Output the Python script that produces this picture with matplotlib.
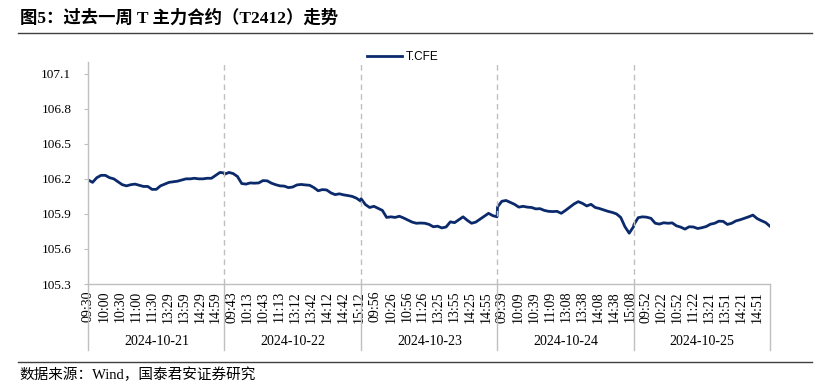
import numpy as np
import matplotlib
matplotlib.use("Agg")
import matplotlib.pyplot as plt
import matplotlib.transforms as mtransforms
from matplotlib.lines import Line2D

############################################
# DATA (T.CFE, sampled every 8 minutes)
############################################
dates = ["2024-10-21", "2024-10-22", "2024-10-23", "2024-10-24", "2024-10-25"]
SAMPLE_STEP = 8
POINTS_PER_DAY = 257   # 09:30-11:30 and 13:00-15:15
TICK_EVERY = 30

day1_vals = [106.19, 106.17, 106.21, 106.23, 106.23, 106.21, 106.20, 106.175, 106.15,
             106.14, 106.15, 106.155, 106.145, 106.135, 106.135, 106.11, 106.11, 106.14,
             106.155, 106.17, 106.175, 106.18, 106.19, 106.20, 106.20, 106.205, 106.20,
             106.20, 106.205, 106.205, 106.23, 106.255, 106.25]
day2_vals = [106.24, 106.255, 106.245, 106.22, 106.16, 106.155, 106.165, 106.163, 106.165,
             106.185, 106.183, 106.163, 106.15, 106.14, 106.138, 106.125, 106.13, 106.148,
             106.152, 106.148, 106.145, 106.125, 106.098, 106.108, 106.105, 106.08, 106.065,
             106.072, 106.063, 106.057, 106.05, 106.035, 106.01]
day3_vals = [106.03, 105.98, 105.955, 105.965, 105.947, 105.93, 105.87, 105.875, 105.87,
             105.88, 105.865, 105.848, 105.83, 105.82, 105.822, 105.82, 105.81, 105.79,
             105.795, 105.78, 105.788, 105.832, 105.825, 105.85, 105.875, 105.845, 105.82,
             105.83, 105.855, 105.88, 105.905, 105.885, 105.875]
day4_vals = [105.96, 106.008, 106.015, 105.998, 105.982, 105.958, 105.965, 105.958, 105.955,
             105.943, 105.945, 105.93, 105.922, 105.92, 105.922, 105.905, 105.93, 105.958,
             105.985, 106.005, 105.99, 105.968, 105.982, 105.955, 105.946, 105.934, 105.922,
             105.913, 105.90, 105.87, 105.79, 105.735, 105.79]
day5_vals = [105.81, 105.868, 105.875, 105.872, 105.862, 105.82, 105.813, 105.824, 105.82,
             105.823, 105.798, 105.787, 105.77, 105.79, 105.788, 105.775, 105.782, 105.792,
             105.812, 105.82, 105.838, 105.836, 105.81, 105.82, 105.84, 105.85, 105.862,
             105.875, 105.89, 105.86, 105.842, 105.826, 105.795]
all_days = [day1_vals, day2_vals, day3_vals, day4_vals, day5_vals]

y_ticks = [105.3, 105.6, 105.9, 106.2, 106.5, 106.8, 107.1]

############################################
# BUILD CATEGORY AXIS
############################################
def minute_label(j):
    if j <= 120:
        m = 9 * 60 + 30 + j
    else:
        m = 13 * 60 + (j - 121)
    return f"{m // 60:02d}:{m % 60:02d}"

day_labels = [minute_label(j) for j in range(POINTS_PER_DAY)]
all_labels = day_labels * len(dates)
n_total = len(all_labels)

xs, ys = [], []
for d, vals in enumerate(all_days):
    for k, v in enumerate(vals):
        xs.append(d * POINTS_PER_DAY + k * SAMPLE_STEP)
        ys.append(v)

############################################
# FIGURE
############################################
serif = ["Liberation Serif", "Noto Sans CJK SC"]
fig = plt.figure(figsize=(8.29, 3.82), dpi=100)
ax = fig.add_axes([0.1062, 0.2565, 0.8228, 0.5812])

navy = "#0B2A6B"
grid_gray = "#BFBFBF"

ax.plot(xs, ys, color=navy, lw=2.0, solid_joinstyle="round")
ax.set_xlim(-0.5, n_total - 0.5)
ax.set_ylim(105.3, 107.2)
ax.set_yticks(y_ticks)
ax.set_yticklabels([f"{v:.1f}" for v in y_ticks], fontfamily=serif, fontsize=9.5)

tick_pos = list(range(0, n_total, TICK_EVERY))
ax.set_xticks(tick_pos)
ax.set_xticklabels([all_labels[i] for i in tick_pos], rotation=90,
                   fontfamily=serif, fontsize=10)
ax.tick_params(axis="x", length=0, pad=5)
ax.tick_params(axis="y", length=3, color=grid_gray, pad=9)

for s in ["top", "right"]:
    ax.spines[s].set_visible(False)
for s in ["left", "bottom"]:
    ax.spines[s].set_color(grid_gray)
    ax.spines[s].set_linewidth(1.0)

# day boundaries
trans = mtransforms.blended_transform_factory(ax.transData, ax.transAxes)
for d in range(1, len(dates)):
    xb = d * POINTS_PER_DAY - 0.5
    ax.axvline(xb, color=grid_gray, lw=1.0, ls=(0, (4, 3)))
for d in range(len(dates) + 1):
    xb = d * POINTS_PER_DAY - 0.5
    ax.add_line(Line2D([xb, xb], [0, -0.297], transform=trans, color=grid_gray,
                       lw=1.0, clip_on=False))
for d, lab in enumerate(dates):
    ax.text(d * POINTS_PER_DAY + POINTS_PER_DAY / 2, -0.257, lab, transform=trans,
            ha="center", va="center", fontfamily=serif, fontsize=10)

leg = fig.legend([Line2D([0], [0], color=navy, lw=2.0)], ["T.CFE"],
                 loc="center", bbox_to_anchor=(0.486, 0.851), frameon=False,
                 prop={"family": "Liberation Sans", "size": 8.5},
                 handlelength=3.0, handletextpad=0.3)

# title and source
fig.text(0.024, 0.953, "图5：过去一周 T 主力合约（T2412）走势", fontfamily=serif,
         fontsize=12.5, fontweight="bold", ha="left", va="center")
fig.add_artist(Line2D([0.022, 0.98], [0.913, 0.913], color="#404040", lw=1.0))
fig.add_artist(Line2D([0.022, 0.98], [0.052, 0.052], color="#404040", lw=1.0))
fig.text(0.024, 0.018, "数据来源：Wind，国泰君安证券研究", fontfamily=serif,
         fontsize=10.5, ha="left", va="center")

fig.savefig("out.png", dpi=100)
